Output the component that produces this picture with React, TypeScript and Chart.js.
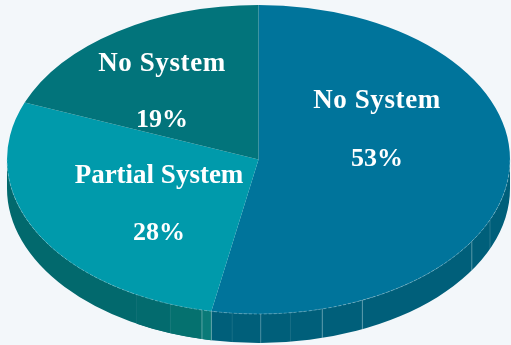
import { useEffect, useRef } from "react";
import { Chart, registerables, Plugin } from "chart.js";

Chart.register(...registerables);

// Share of respondents per slice, clockwise from twelve o'clock.
const categories = ["No System", "Partial System", "No System"];
const shares = [53, 28, 19];
const faceColors = ["#00749b", "#009aab", "#02747b"];
const rimColors = ["#005f7a", "#02696d", "#02696d"];

// Rim facets, in degrees clockwise from three o'clock.
const facetStart = [110.5, 103, 100.8];
const facetEnd = [119, 110.5, 103];
const facetColors = ["#036b6e", "#05716f", "#0a7a78"];
const seamDegrees = [23, 32, 65.6, 75.3, 82.7, 89.5, 96, 100.8, 103, 110.5, 119];
const seamAlpha = [0.2, 0.45, 0.5, 0.5, 0.12, 0.4, 0.12, 0.4, 0.45, 0.12, 0.08];

// Ellipse geometry of the tilted pie.
const tilt = { cx: 258.5, cy: 159.5, rx: 251.5, ry: 154.5, depth: 29 };
const labelCenters = [
  { x: 377, nameY: 101, shareY: 159 },
  { x: 159, nameY: 176, shareY: 233 },
  { x: 162, nameY: 64, shareY: 120 },
];
const labelSpacing = ["0.6px", "0px", "0.6px"];
const background = "#f3f7fa";
const labelFont = '"Liberation Serif", serif';

const toRadians = (deg: number) => (deg * Math.PI) / 180;

const tiltedPie: Plugin<"pie"> = {
  id: "tiltedPie",
  beforeDatasetsDraw(chart) {
    const { ctx } = chart;
    const { cx, cy, rx, ry, depth } = tilt;
    const band = (a: number, b: number, color: string) => {
      ctx.beginPath();
      ctx.ellipse(cx, cy, rx, ry, 0, a, b);
      ctx.ellipse(cx, cy + depth, rx, ry, 0, b, a, true);
      ctx.closePath();
      ctx.fillStyle = color;
      ctx.fill();
    };
    const arcs = chart.getDatasetMeta(0).data as any[];
    ctx.save();
    arcs.forEach((arc, i) => {
      const a = Math.max(arc.startAngle, 0);
      const b = Math.min(arc.endAngle, Math.PI);
      if (b > a) band(a, b, rimColors[i]);
    });
    facetStart.forEach((deg, i) => band(toRadians(deg), toRadians(facetEnd[i]), facetColors[i]));
    seamDegrees.forEach((deg, i) => {
      const t = toRadians(deg);
      const x = cx + rx * Math.cos(t);
      const y = cy + ry * Math.sin(t);
      ctx.beginPath();
      ctx.moveTo(x, y);
      ctx.lineTo(x, y + depth);
      ctx.lineWidth = 1;
      ctx.strokeStyle = `rgba(190,220,225,${seamAlpha[i]})`;
      ctx.stroke();
    });
    ctx.restore();

    // Squash the round pie into the tilted ellipse for the face pass.
    const first = arcs[0];
    const r = first.outerRadius;
    ctx.save();
    ctx.translate(cx, cy);
    ctx.scale(rx / r, ry / r);
    ctx.translate(-first.x, -first.y);
  },
  afterDatasetsDraw(chart) {
    const { ctx } = chart;
    const { cx, cy, rx, ry } = tilt;
    ctx.restore();

    // Thin highlight where the face meets the rim.
    ctx.save();
    ctx.beginPath();
    ctx.ellipse(cx, cy, rx, ry, 0, 0, Math.PI);
    ctx.lineWidth = 1;
    ctx.strokeStyle = "rgba(170,210,220,0.4)";
    ctx.setLineDash([3, 2]);
    ctx.stroke();
    ctx.restore();

    ctx.save();
    ctx.fillStyle = "#ffffff";
    ctx.textAlign = "center";
    ctx.textBaseline = "middle";
    labelCenters.forEach((c, i) => {
      ctx.font = `bold 27px ${labelFont}`;
      (ctx as any).letterSpacing = labelSpacing[i];
      ctx.fillText(categories[i], c.x, c.nameY);
      (ctx as any).letterSpacing = "0px";
      ctx.font = `bold 26px ${labelFont}`;
      ctx.fillText(`${shares[i]}%`, c.x, c.shareY);
    });
    ctx.restore();
  },
};

export default function App() {
  const canvasRef = useRef<HTMLCanvasElement>(null);

  useEffect(() => {
    document.body.style.background = background;
    const chart = new Chart(canvasRef.current!, {
      type: "pie",
      data: {
        labels: categories,
        datasets: [
          {
            data: shares,
            backgroundColor: faceColors,
            borderWidth: 0,
            clip: false,
          } as any,
        ],
      },
      options: {
        responsive: false,
        animation: false,
        events: [],
        layout: { padding: 0 },
        plugins: {
          legend: { display: false },
          tooltip: { enabled: false },
          title: { display: false },
        },
      },
      plugins: [tiltedPie],
    });
    return () => chart.destroy();
  }, []);

  return (
    <div style={{ position: "fixed", left: 0, top: 0, width: 511, height: 345, background }}>
      <canvas ref={canvasRef} width={511} height={345} style={{ display: "block" }} />
    </div>
  );
}
